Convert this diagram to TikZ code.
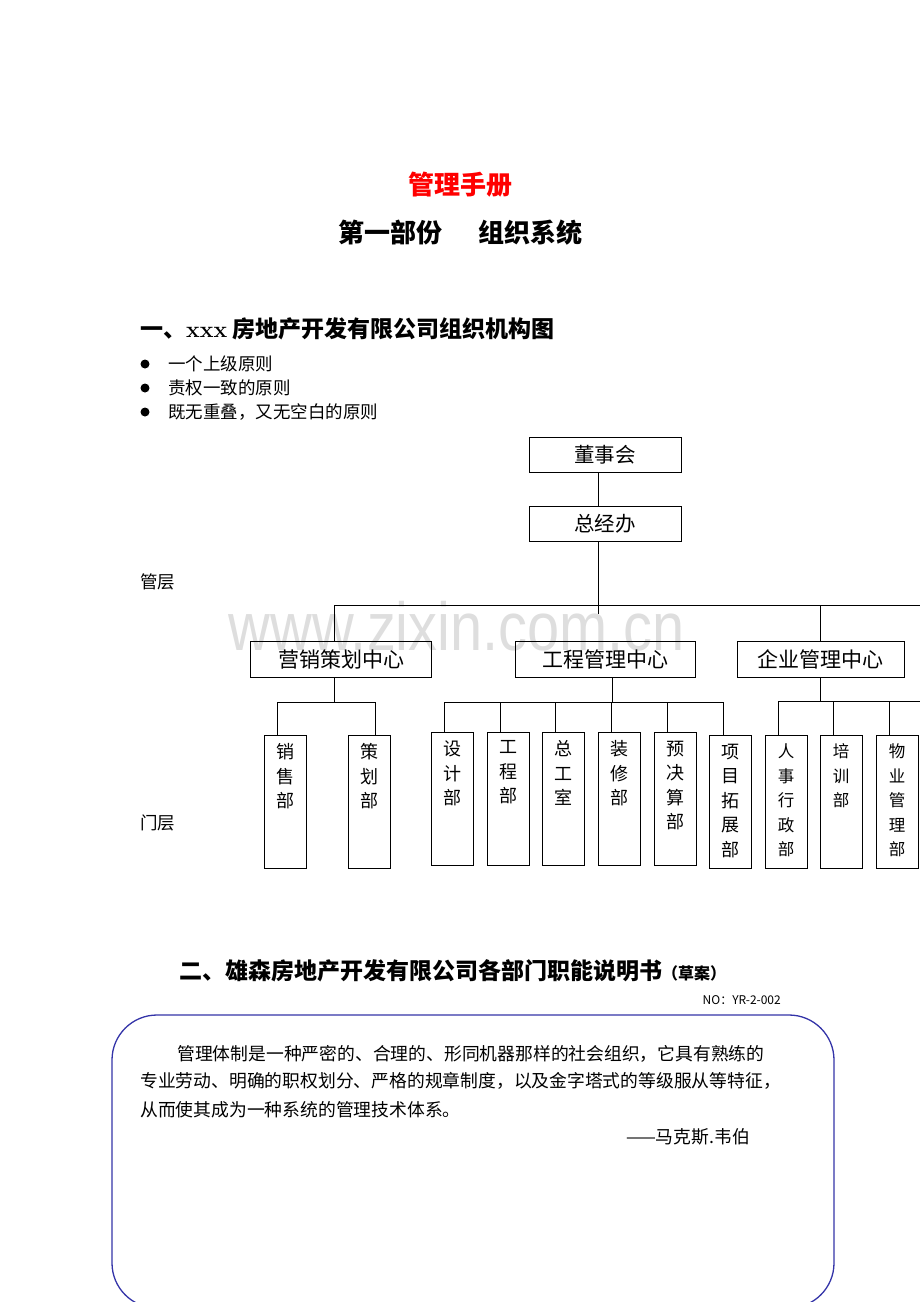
\documentclass[tikz,border=0pt]{standalone}
\usepackage{fontspec}
\newfontfamily\cjk{Noto Sans CJK SC}
\newfontfamily\wmfont{Liberation Sans}
\usetikzlibrary{calc,positioning}
\definecolor{kuanglan}{RGB}{52,52,168}
\definecolor{shuiyin}{RGB}{222,222,222}

\tikzset{
  zuzhi/.style={draw, line width=1pt, inner sep=0pt, minimum width=152pt, minimum height=35pt, font=\cjk\fontsize{20.5}{24}\selectfont},
  zhongxin/.style={draw, line width=1pt, inner sep=0pt, minimum height=36pt, font=\cjk\fontsize{21}{24}\selectfont},
  bumen/.style={draw, line width=1pt, inner sep=0pt, minimum width=42pt, minimum height=133pt},
  shuzi/.style={align=center, anchor=north, inner sep=0pt, yshift=-9pt, font=\cjk\fontsize{18}{24.5}\selectfont},
  shuzixiao/.style={shuzi, font=\cjk\fontsize{16.5}{24.5}\selectfont},
  wenzi/.style={inner sep=0pt, font=\cjk\fontsize{17.5}{21}\selectfont},
  zhengwen/.style={inner sep=0pt, font=\cjk\fontsize{17.8}{21}\selectfont},
  lianxian/.style={line width=1pt},
}

\begin{document}
\begin{tikzpicture}[x=1pt, y=-1pt]
    \useasboundingbox (0,0) rectangle (920,1302);
    \clip (0,0) rectangle (920,1302);

    % 水印
    \node[font=\wmfont\fontsize{68}{70}\selectfont, text=shuiyin, inner sep=0pt] (shuiyin) at (457,626) {\scalebox{0.85}[1]{www.zixin.com.cn}};

    % 标题
    \node[font=\cjk\bfseries\fontsize{26}{30}\selectfont, text=red] (biaoti) at (460,185) {管理手册};
    \node[font=\cjk\bfseries\fontsize{26}{30}\selectfont] (bufen) at (460.5,233) {第一部份\hspace{1.35em}组织系统};
    \node[font=\cjk\bfseries\fontsize{23}{26}\selectfont, anchor=west, inner sep=0pt] (yi) at (140,329) {一、{\rmfamily xxx} 房地产开发有限公司组织机构图};

    % 三条原则
    \foreach \y/\t [count=\i] in {364/一个上级原则, 388/责权一致的原则, 412/既无重叠，又无空白的原则} {
        \fill (145,\y) circle (4.5pt);
        \node[wenzi, anchor=west] (yuanze\i) at (168,\y) {\t};
    }

    % 层次
    \node[wenzi, anchor=west] (guanceng) at (140,582) {管层};
    \node[wenzi, anchor=west] (menceng) at (140,823) {门层};

    % 决策层
    \node[zuzhi] (dongshi) at (605,454.5) {董事会};
    \node[zuzhi] (zongjing) at (605,523.5) {总经办};

    % 三个中心
    \node[zhongxin, minimum width=181pt] (yingxiao) at (341,659.5) {营销策划中心};
    \node[zhongxin, minimum width=180pt] (gongchengzx) at (605,659.5) {工程管理中心};
    \node[zhongxin, minimum width=167pt] (qiye) at (820.5,659.5) {企业管理中心};

    % 各部门
    \node[bumen, label={[shuzi]north:销\\售\\部}] (xiaoshou) at (285,801.5) {};
    \node[bumen, label={[shuzi]north:策\\划\\部}] (cehua) at (369,801.5) {};
    \node[bumen, label={[shuzi]north:设\\计\\部}] (sheji) at (452,798.5) {};
    \node[bumen, label={[shuzi]north:工\\程\\部}] (gongcheng) at (508,798.5) {};
    \node[bumen, label={[shuzi]north:总\\工\\室}] (zonggong) at (563,798.5) {};
    \node[bumen, label={[shuzi]north:装\\修\\部}] (zhuangxiu) at (619,798.5) {};
    \node[bumen, label={[shuzi]north:预\\决\\算\\部}] (yujuesuan) at (675,798.5) {};
    \node[bumen, label={[shuzi]north:项\\目\\拓\\展\\部}] (xiangmu) at (730.5,801.5) {};
    \node[bumen, label={[shuzixiao]north:人\\事\\行\\政\\部}] (renshi) at (786,801.5) {};
    \node[bumen, label={[shuzixiao]north:培\\训\\部}] (peixun) at (841,801.5) {};
    \node[bumen, label={[shuzixiao]north:物\\业\\管\\理\\部}] (wuye) at (897,801.5) {};

    % 连线用的点
    \coordinate (shangbian) at (925,605);
    \coordinate (zjbdi) at ($(zongjing.south)+(-7,72)$);
    \coordinate (yxbus) at ($(yingxiao.south)+(-7,24)$);
    \coordinate (gcbus) at ($(gongchengzx.south)+(7,24)$);
    \coordinate (qybus) at (925,701);
    \foreach \d in {xiaoshou,sheji,gongcheng,zonggong,zhuangxiu,yujuesuan,xiangmu,renshi,peixun,wuye}
        \coordinate (\d-t) at ($(\d.north west)+(14,0)$);
    \coordinate (cehua-t) at ($(cehua.north west)+(28,0)$);

    % 上层连线
    \draw[lianxian] ([xshift=-7pt]dongshi.south) -- ([xshift=-7pt]zongjing.north);
    \draw[lianxian] ([xshift=-7pt]zongjing.south) -- (zjbdi);
    \draw[lianxian] ([xshift=-7pt]yingxiao.north) |- (shangbian);
    \draw[lianxian] (qiye.north) -- (qiye.north |- shangbian);

    % 下层连线
    \draw[lianxian] ([xshift=-7pt]yingxiao.south) -- (yxbus);
    \draw[lianxian] (xiaoshou-t) |- (yxbus) -| (cehua-t);
    \draw[lianxian] ([xshift=7pt]gongchengzx.south) -- (gcbus);
    \draw[lianxian] (sheji-t) |- (gcbus) -| (xiangmu-t);
    \foreach \d in {gongcheng,zonggong,zhuangxiu,yujuesuan}
        \draw[lianxian] (\d-t) -- (\d-t |- gcbus);
    \draw[lianxian] (qiye.south) -- (qiye.south |- qybus);
    \draw[lianxian] (renshi-t) |- (qybus);
    \foreach \d in {peixun,wuye}
        \draw[lianxian] (\d-t) -- (\d-t |- qybus);

    % 第二部分
    \node[font=\cjk\bfseries\fontsize{23}{26}\selectfont, anchor=base west, inner sep=0pt] (er) at (179,979) {二、雄森房地产开发有限公司各部门职能说明书{\fontsize{16}{18}\selectfont（草案）}};
    \node[font=\cjk\fontsize{12}{14}\selectfont, anchor=east, inner sep=0pt] (bianhao) at (781,1000) {NO：YR-2-002};

    % 圆角框
    \draw[kuanglan, line width=1.3pt, rounded corners=45pt] (112,1015) rectangle (834,1308);

    \node[zhengwen, anchor=west] (duan1) at (177,1054) {管理体制是一种严密的、合理的、形同机器那样的社会组织，它具有熟练的};
    \node[zhengwen, anchor=west] (duan2) at (140,1081) {专业劳动、明确的职权划分、严格的规章制度，以及金字塔式的等级服从等特征，};
    \node[zhengwen, anchor=west] (duan3) at (140,1110) {从而使其成为一种系统的管理技术体系。};
    \node[zhengwen, anchor=east] (weibo) at (750,1137) {——马克斯.韦伯};

\end{tikzpicture}
\end{document}
